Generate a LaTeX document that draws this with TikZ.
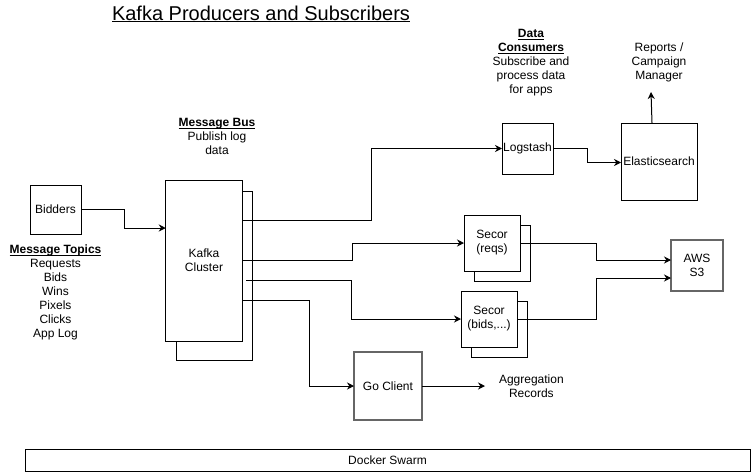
\documentclass[tikz,border=0pt]{standalone}
\usepackage{fontspec}
\setmainfont{Liberation Sans}
\usetikzlibrary{
  shapes,
  shadows,
  arrows.meta,
  positioning
}
\newcommand{\ulhead}[1]{\underline{\smash{#1}}\vphantom{#1}}

\begin{document}
\begin{tikzpicture}[x=1pt,y=-1pt,
		every node/.style={inner sep=0pt,outer sep=0pt,font=\fontsize{12}{14}\selectfont},
		box/.style={rectangle,draw=black,line width=1pt,fill=white,align=center},
		greybox/.style={box,draw=black!60,line width=1.3pt},
		stack/.style={box,copy shadow={shadow xshift=10pt,shadow yshift=-10pt,draw=black,fill=white,line width=1pt}},
		link/.style={line width=1pt,->,>={Stealth[length=7pt,width=7pt]}}]
		\useasboundingbox (0,0) rectangle (751,472);
		\node[font=\fontsize{20}{24}\selectfont] (12) at (261,14) {\ulhead{Kafka Producers and Subscribers}};
		\node[box,minimum width=51pt,minimum height=49pt] (1) at (55.5,209.5) {Bidders};
		\node[below=11pt of 1,align=center] (13) {\ulhead{\textbf{Message Topics}}\\Requests\\Bids\\Wins\\Pixels\\Clicks\\App Log};
		\node[box,minimum width=76pt,minimum height=169pt] (2a) at (214,275.5) {};
		\node[box,minimum width=76.5pt,minimum height=161pt] (2) at (204,260.5) {Kafka\\Cluster};
		\node[above=25pt of 2,xshift=13pt,align=center] (14) {\ulhead{\textbf{Message Bus}}\\Publish log\\data};
		\node[stack,minimum size=56pt] (3) at (492,243) {Secor\\(reqs)};
		\node[stack,minimum size=56pt] (4) at (489,319) {Secor\\(bids,...)};
		\node[greybox,minimum size=68pt] (5) at (388,386) {Go Client};
		\node[right=77pt of 5,align=center] (11) {Aggregation\\Records};
		\node[box,minimum size=51pt] (6) at (527.5,148.5) {Logstash};
		\node[above=27pt of 6,xshift=3.5pt,align=center] (15) {\ulhead{\textbf{Data}}\\\ulhead{\textbf{Consumers}}\\Subscribe and\\process data\\for apps};
		\node[box,minimum width=76pt,minimum height=77pt] (7) at (659,161.5) {Elasticsearch};
		\node[above=41pt of 7,align=center] (10) {Reports /\\Campaign\\Manager};
		\node[greybox,minimum width=52pt,minimum height=51pt] (8) at (697,265.5) {AWS\\S3};
		\node[box,minimum width=725pt,minimum height=22pt] (9) at (387.5,460) {Docker Swarm};

		\draw [link] (1.east) -- ++(43,0) |- ([yshift=-48pt]2.north west);
		\draw [link] ([yshift=-40pt]2.north east) -- ++(129.5,0) |- (6.west);
		\draw [link] (2.east) -- ++(110.5,0) |- (3.west);
		\draw [link] ([xshift=4pt,yshift=-100pt]2.north east) -- ++(105.5,0) |- (4.west);
		\draw [link] ([yshift=-120pt]2.north east) -- ++(67.5,0) |- (5.west);
		\draw [link] (6.east) -- ++(34,0) |- ([yshift=-1pt]7.west);
		\draw [link] ([xshift=-7pt]7.north) -- ([xshift=-8pt,yshift=-10pt]10.south);
		\draw [link] (3.east) -- ++(76,0) |- ([yshift=5.5pt]8.west);
		\draw [link] (4.east) -- ++(79,0) |- ([yshift=-12.5pt]8.west);
		\draw [link] (5.east) -- ([xshift=-14pt]11.west);
	\end{tikzpicture}
\end{document}
